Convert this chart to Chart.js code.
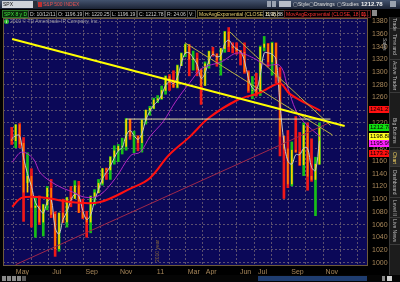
<!DOCTYPE html>
<html>
<head>
<meta charset="utf-8">
<script src="https://cdn.jsdelivr.net/npm/chart.js@4"></script>
<style>
html, body { margin: 0; padding: 0; background: #000; width: 400px; height: 282px; overflow: hidden; font-family: "Liberation Sans", Arial, sans-serif; }
#wrap { position: relative; width: 400px; height: 282px; }
#chart { position: absolute; left: 0; top: 0; }
.abs { position: absolute; white-space: nowrap; }
#toolbar { left: 0; top: 0; width: 400px; height: 9px; background: linear-gradient(#44536e, #1b2334); }
#infobar { left: 0; top: 9px; width: 400px; height: 9px; background: #000; }
.fld { position: absolute; top: 10px; height: 6px; line-height: 6px; font-size: 5px; color: #d0d0d0; border: 1px solid #4a4a4a; padding: 0 1px; }
.tbtxt { position: absolute; top: 1px; height: 7px; line-height: 7px; font-size: 5px; color: #e0e0e0; }
#side { left: 389px; top: 17px; width: 11px; height: 258px; background: #1c1c1c; border-left: 1px solid #3a3a3a; }
.tab { position: absolute; left: 390px; width: 10px; writing-mode: vertical-rl; font-size: 5px; line-height: 10px; color: #b8b8b8; text-align: center; border-bottom: 1px solid #3a3a3a; }
#copy { left: 4px; top: 18px; font-size: 5px; line-height: 7px; color: #9a9aa8; }
#copy b { display: inline-block; width: 5px; height: 5px; border-radius: 3px; background: #2fb82f; color: #fff; font-size: 4px; line-height: 5px; text-align: center; margin-right: 1px; }
#bottom { left: 0; top: 275px; width: 400px; height: 7px; background: #050505; }
</style>
</head>
<body>
<div id="wrap">
  <canvas id="chart" width="400" height="282"></canvas>

  <div id="toolbar" class="abs"></div>
  <div class="abs" style="left:2px;top:1px;width:30px;height:7px;background:#cfd3da;font-size:5px;line-height:7px;color:#111;padding-left:1px;">SPX</div>
  <div class="abs" style="left:33px;top:1px;width:4px;height:7px;background:#2a2f3a;"></div>
  <div class="abs" style="left:38px;top:2px;width:4px;height:5px;background:#c03030;"></div>
  <div class="tbtxt" style="left:43px;color:#e05050;">S&amp;P 500 INDEX</div>
  <div class="abs" style="left:267px;top:1px;width:4px;height:6px;background:#9aa2b0;"></div>
  <div class="abs" style="left:272px;top:1px;width:4px;height:6px;background:#9aa2b0;"></div>
  <div class="abs" style="left:279px;top:1px;width:12px;height:6px;background:#b8bec8;"></div>
  <div class="tbtxt" style="left:293px;">&#9634;Style</div>
  <div class="tbtxt" style="left:309px;">&#9634;Drawings</div>
  <div class="tbtxt" style="left:337px;">&#9634;Studies</div>
  <div class="tbtxt" style="left:361px;font-size:6px;font-weight:bold;color:#f0f0f0;">1212.78</div>
  <div class="abs" style="left:390px;top:1px;width:6px;height:6px;background:#9aa2b0;"></div>

  <div id="infobar" class="abs"></div>
  <div class="fld" style="left:2px;color:#40e040;background:#0a2a0a;border-color:#2a7a2a;">SPX 8 y D</div>
  <div class="fld" style="left:28px;">D: 10/12/11</div>
  <div class="fld" style="left:56px;">O: 1196.19</div>
  <div class="fld" style="left:83px;">H: 1220.25</div>
  <div class="fld" style="left:110px;">L: 1196.19</div>
  <div class="fld" style="left:137px;">C: 1212.78</div>
  <div class="fld" style="left:165px;">R: 24.06</div>
  <div class="fld" style="left:187px;">V:</div>
  <div class="fld" style="left:197px;color:#e8d070;border-color:#5a5030;">MovAvgExponential (CLOSE, 8, 0)</div>
  <div class="fld" style="left:263px;color:#e8e8e8;">1198.88</div>
  <div class="fld" style="left:284px;color:#ff3030;border-color:#5a2020;">MovAvgExponential (CLOSE, 18, 0)</div>
  <div class="fld" style="left:359px;color:#ff3030;border-color:#5a2020;">11..</div>
  <div class="abs" style="left:372px;top:10px;width:5px;height:6px;background:#8a8a8a;"></div>

  <div id="copy" class="abs"><b>i</b>2010 &copy; TD Ameritrade IP Company, Inc.</div>

  <div id="side" class="abs"></div>
  <div class="tab" style="top:18px;height:10px;">Trade</div>
  <div class="tab" style="top:29px;height:30px;">Time and Sales</div>
  <div class="tab" style="top:60px;height:32px;">Active Trader</div>
  <div class="tab" style="top:115px;height:32px;">Big Buttons</div>
  <div class="tab" style="top:150px;height:16px;color:#f0d060;background:#2e2e2e;">Chart</div>
  <div class="tab" style="top:167px;height:30px;">Dashboard</div>
  <div class="tab" style="top:199px;height:18px;">Level II</div>
  <div class="tab" style="top:218px;height:26px;">Live News</div>

  <div id="bottom" class="abs"></div>
  <div class="abs" style="left:2px;top:276px;width:4px;height:5px;background:#8a8a8a;"></div>
  <div class="abs" style="left:7px;top:276px;width:4px;height:5px;background:#8a8a8a;"></div>
  <div class="abs" style="left:12px;top:276px;width:4px;height:5px;background:#8a8a8a;"></div>
  <div class="abs" style="left:17px;top:276px;width:4px;height:5px;background:#8a8a8a;"></div>
  <div class="abs" style="left:22px;top:276px;width:4px;height:5px;background:#5a5a5a;"></div>
  <div class="abs" style="left:258px;top:276px;width:109px;height:5px;background:#1f3d70;"></div>
  <div class="abs" style="left:382px;top:276px;width:3px;height:5px;background:#8a8a8a;"></div>
  <div class="abs" style="left:387px;top:276px;width:5px;height:5px;background:#d0d0d0;"></div>
</div>

<script>
// weeks counted from the week of 26 Apr 2010
const weeks = [-2, -1, 0, 1, 2, 3, 4, 5, 6, 7, 8, 9, 10, 11, 12, 13, 14, 15, 16, 17, 18, 19, 20,
  21, 22, 23, 24, 25, 26, 27, 28, 29, 30, 31, 32, 33, 34, 35, 36, 37, 38, 39, 40, 41, 42, 43, 44,
  45, 46, 47, 48, 49, 50, 51, 52, 53, 54, 55, 56, 57, 58, 59, 60, 61, 62, 63, 64, 65, 66, 67, 68,
  69, 70, 71, 72, 73, 74, 75, 76];

const opens = [1194, 1192, 1217, 1188, 1111, 1136, 1087, 1089, 1064, 1091, 1117, 1076, 1022, 1078,
  1064, 1102, 1101, 1121, 1079, 1071, 1064, 1104, 1110, 1125, 1148, 1146, 1166, 1176, 1183, 1183,
  1225, 1199, 1199, 1189, 1224, 1240, 1243, 1256, 1258, 1271, 1293, 1283, 1276, 1310, 1329, 1343,
  1320, 1321, 1304, 1279, 1313, 1332, 1328, 1319, 1337, 1363, 1340, 1338, 1333, 1331, 1300, 1271,
  1271, 1268, 1339, 1344, 1316, 1345, 1292, 1199, 1179, 1124, 1177, 1174, 1154, 1216, 1136, 1131, 1155];

const highs = [1213, 1217, 1219, 1197, 1173, 1148, 1104, 1105, 1092, 1120, 1131, 1080, 1078, 1100,
  1103, 1120, 1129, 1128, 1100, 1081, 1105, 1115, 1131, 1148, 1149, 1167, 1184, 1186, 1196, 1227,
  1226, 1207, 1200, 1225, 1240, 1246, 1259, 1263, 1278, 1294, 1296, 1302, 1311, 1330, 1344, 1343,
  1333, 1330, 1305, 1316, 1333, 1339, 1329, 1337, 1364, 1370, 1346, 1346, 1334, 1346, 1302, 1293,
  1298, 1341, 1356, 1345, 1347, 1346, 1307, 1199, 1208, 1190, 1230, 1205, 1220, 1220, 1195, 1166, 1220];

const lows = [1186, 1181, 1181, 1065, 1126, 1056, 1040, 1060, 1042, 1083, 1071, 1010, 1018, 1063,
  1056, 1088, 1101, 1079, 1069, 1040, 1047, 1091, 1110, 1122, 1131, 1131, 1155, 1159, 1171, 1177,
  1194, 1173, 1176, 1174, 1218, 1232, 1242, 1252, 1257, 1265, 1271, 1276, 1275, 1310, 1324, 1294,
  1303, 1294, 1249, 1279, 1306, 1325, 1309, 1295, 1331, 1332, 1330, 1328, 1311, 1298, 1268, 1258,
  1262, 1263, 1333, 1308, 1295, 1283, 1168, 1101, 1118, 1121, 1174, 1153, 1137, 1114, 1128, 1074, 1155];

const closes = [1192, 1217, 1187, 1111, 1136, 1087, 1089, 1064, 1091, 1117, 1076, 1022, 1078, 1064,
  1102, 1101, 1121, 1079, 1071, 1064, 1104, 1110, 1125, 1148, 1146, 1166, 1176, 1183, 1183, 1225,
  1199, 1199, 1189, 1224, 1240, 1243, 1256, 1258, 1271, 1293, 1283, 1276, 1310, 1329, 1343, 1320,
  1321, 1304, 1279, 1313, 1332, 1328, 1319, 1337, 1363, 1340, 1338, 1333, 1331, 1300, 1271, 1271,
  1268, 1339, 1344, 1316, 1345, 1292, 1199, 1179, 1124, 1177, 1174, 1154, 1216, 1136, 1131, 1155, 1213];

// short exponential average (grey)
const emaShort = [1195, 1200, 1200, 1165, 1140, 1120, 1095, 1085, 1078, 1095, 1100, 1055, 1045, 1068,
  1080, 1098, 1108, 1105, 1082, 1068, 1075, 1098, 1115, 1132, 1142, 1152, 1165, 1176, 1181, 1200,
  1208, 1200, 1194, 1203, 1225, 1238, 1248, 1254, 1264, 1279, 1285, 1282, 1292, 1314, 1330, 1330,
  1322, 1312, 1290, 1298, 1318, 1328, 1324, 1326, 1345, 1350, 1342, 1336, 1332, 1318, 1290, 1275,
  1272, 1295, 1330, 1330, 1328, 1320, 1250, 1190, 1160, 1155, 1170, 1170, 1180, 1180, 1150, 1145, 1192];

// purple average, read at a few weeks
const midWeeks = [-1.9, 0.5, 3.4, 5.3, 9.4, 13.5, 16.6, 20.2, 24.3, 28.2, 30.6, 33, 36.4, 39.5,
  43.1, 46.3, 51.1, 55.2, 59.3, 62.4, 66, 68, 70, 72, 74, 76.3];
const midAvg = [1158, 1174, 1164, 1141, 1122, 1111, 1103, 1106, 1133, 1169, 1174, 1198, 1222, 1253,
  1283, 1306, 1316, 1330, 1322, 1311, 1310, 1275, 1240, 1222, 1210, 1198];

// red long average
const longWeeks = [-1.9, 0.5, 5.3, 9.4, 13.5, 20.2, 28.2, 33, 37.8, 43.1, 48, 55.2, 60.7, 66, 68.4, 72.5, 76.3];
const longAvg = [1088, 1102, 1103, 1099, 1095, 1095, 1117, 1133, 1169, 1198, 1228, 1256, 1267, 1282, 1266, 1251, 1239];

// drawn trend lines: [week, price] pairs
const trendThick = [[-1.9, 1352], [82.4, 1215]];
const trendFlat = [[27.0, 1226], [78.8, 1226]];
const trendFeb = [[41.9, 1346], [79.3, 1201]];
const trendMay = [[53.3, 1363], [78.8, 1216]];
const trendLow = [[-1.0, 997], [78.8, 1221]];

// y-axis value tags
const tagValues = [1241.27, 1212.78, 1198.88, 1195.99, 1173.24];
const tagColors = ['#ff1010', '#10e010', '#ffff20', '#ff20ff', '#ff1010'];

// month gridlines and their labels
const monthPos = [0.71, 5.14, 9.43, 13.86, 18.29, 22.57, 27, 31.29, 35.71, 40.14, 44.14, 48.57,
  52.86, 57.29, 61.57, 66, 70.43, 74.71, 79.14, 83.43];
const monthLabels = ['May', '', 'Jul', '', 'Sep', '', 'Nov', '', '11', '', 'Mar', 'Apr',
  '', 'Jun', 'Jul', '', 'Sep', '', 'Nov', ''];

const xy = (xs, ys) => xs.map((x, i) => ({ x: x, y: ys[i] }));
const pairs = p => p.map(d => ({ x: d[0], y: d[1] }));
const up = i => closes[i] >= opens[i];

function lineSet(data, color, width, order) {
    return {
        type: 'line', data: data, borderColor: color, borderWidth: width,
        pointRadius: 0, tension: 0.35, fill: false, order: order
    };
}

const chartDeco = {
    id: 'chartDeco',
    beforeDraw(chart) {
        const { ctx, chartArea: a } = chart;
        ctx.save();
        ctx.fillStyle = '#0b0858';
        ctx.fillRect(a.left, a.top, a.right - a.left, a.bottom - a.top);
        ctx.restore();
    },
    afterDraw(chart) {
        const { ctx, chartArea: a, scales } = chart;
        ctx.save();
        ctx.strokeStyle = '#6e5a3c';
        ctx.lineWidth = 1;
        ctx.strokeRect(a.left + 0.5, a.top + 0.5, a.right - a.left - 1, a.bottom - a.top);

        // year separator text
        const yx = scales.x.getPixelForValue(35.0);
        ctx.translate(yx, a.bottom - 3);
        ctx.rotate(-Math.PI / 2);
        ctx.fillStyle = '#8a6a3a';
        ctx.font = '5px "Liberation Sans"';
        ctx.textBaseline = 'middle';
        ctx.fillText('2010 year', 0, 0);
        ctx.restore();

        // value tags on the price axis
        ctx.save();
        ctx.font = '6px "Liberation Sans"';
        ctx.textBaseline = 'middle';
        let last = -100;
        tagValues.map((v, i) => ({ v: v, c: tagColors[i], y: scales.y.getPixelForValue(v) }))
            .sort((p, q) => p.y - q.y)
            .forEach(t => {
                let y = Math.max(t.y, last + 7);
                last = y;
                ctx.fillStyle = t.c;
                ctx.fillRect(a.right + 1, Math.round(y) - 3, 20, 7);
                ctx.fillStyle = '#000';
                ctx.fillText(t.v.toFixed(2), a.right + 2, Math.round(y) + 0.5);
            });
        ctx.restore();
    }
};

new Chart(document.getElementById('chart'), {
    type: 'bar',
    data: {
        datasets: [
            lineSet(pairs(trendThick), '#ffff00', 2, 0),
            lineSet(pairs(trendFlat), '#e6e2a8', 1, 1),
            lineSet(pairs(trendFeb), '#b8b040', 1, 1),
            lineSet(pairs(trendMay), '#b8b040', 1, 1),
            lineSet(pairs(trendLow), '#a0284a', 1, 1),
            lineSet(xy(longWeeks, longAvg), '#ff1010', 2, 2),
            lineSet(xy(midWeeks, midAvg), '#b028c0', 1, 3),
            lineSet(xy(weeks, emaShort), '#c8c8c8', 1, 4),
            {
                type: 'bar',
                data: weeks.map((w, i) => ({ x: w, y: [opens[i], closes[i]] })),
                backgroundColor: ctx => up(ctx.dataIndex) ? '#ffd000' : '#ff7a00',
                barThickness: 1, grouped: false, order: 5
            },
            {
                type: 'bar',
                data: weeks.map((w, i) => ({ x: w, y: [lows[i], highs[i]] })),
                backgroundColor: ctx => up(ctx.dataIndex) ? '#18c018' : '#f01818',
                barThickness: 2, grouped: false, order: 6
            }
        ]
    },
    options: {
        responsive: false,
        animation: false,
        events: [],
        layout: { padding: { left: 3, top: 18, right: 0, bottom: 0 } },
        plugins: { legend: { display: false }, tooltip: { enabled: false } },
        scales: {
            x: {
                type: 'linear', min: -1.9, max: 86,
                afterFit: s => { s.height = 17; s.paddingLeft = 0; s.paddingRight = 0; },
                afterBuildTicks: s => { s.ticks = monthPos.map(v => ({ value: v })); },
                grid: { color: 'rgba(135,120,125,0.65)', lineWidth: 1, drawTicks: false },
                border: { display: false, dash: [2, 2] },
                ticks: {
                    autoSkip: false, maxRotation: 0, padding: 3,
                    color: '#a8875a', font: { size: 7, family: 'Liberation Sans' },
                    callback: (v, i) => monthLabels[i]
                }
            },
            y: {
                position: 'right', min: 996.4, max: 1385,
                afterFit: s => { s.width = 32; s.paddingTop = 0; s.paddingBottom = 0; },
                grid: { color: 'rgba(135,120,125,0.65)', lineWidth: 1, drawTicks: false },
                border: { display: false, dash: [2, 2] },
                ticks: {
                    stepSize: 20, includeBounds: false, padding: 4,
                    color: '#a8875a', font: { size: 7, family: 'Liberation Sans' },
                    callback: v => String(v)
                }
            }
        }
    },
    plugins: [chartDeco]
});
</script>
</body>
</html>
